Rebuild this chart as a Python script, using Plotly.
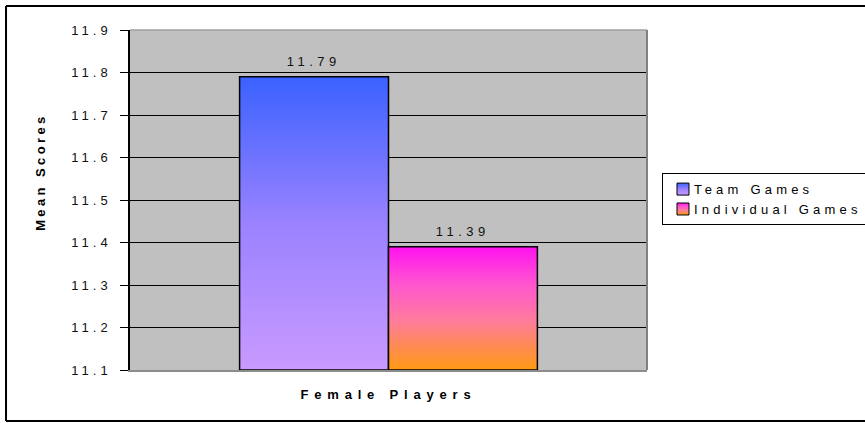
import json
import plotly.graph_objects as go

# Data
category = "Female Players"
series_names = ["Team Games", "Individual Games"]
mean_scores = [11.79, 11.39]
y_ticks = [11.1, 11.2, 11.3, 11.4, 11.5, 11.6, 11.7, 11.8, 11.9]
y_title = "Mean Scores"

# Vertical gradients, bottom (0) to top (1)
gradients = [
    [[0.0, "#C99AFF"], [0.5, "#9A82FF"], [1.0, "#3A62FF"]],
    [[0.0, "#FF9A12"], [0.4, "#FF7C9C"], [0.7, "#FF55D0"], [1.0, "#FF12F0"]],
]
legend_fallback = ["#7F78FF", "#FF50D8"]

Y_MIN, Y_MAX = y_ticks[0], y_ticks[-1]
BAR_W = 0.288          # width of each bar in axis units
GROUP_W = BAR_W * len(mean_scores)

FONT = "Liberation Sans, Arial, sans-serif"

fig = go.Figure()

for i, (name, val) in enumerate(zip(series_names, mean_scores)):
    x0 = -GROUP_W / 2 + i * BAR_W
    x1 = x0 + BAR_W
    # legend entry / base bar
    fig.add_trace(go.Bar(
        x=[x0 + BAR_W / 2], y=[val], width=[BAR_W],
        name=name, marker=dict(color=legend_fallback[i],
                               line=dict(color="black", width=1)),
        hoverinfo="skip",
    ))
    # gradient-filled body drawn over the bar
    fig.add_trace(go.Scatter(
        x=[x0, x0, x1, x1, x0], y=[Y_MIN, val, val, Y_MIN, Y_MIN],
        mode="lines", fill="toself",
        fillgradient=dict(type="vertical", colorscale=gradients[i],
                          start=Y_MIN, stop=val),
        line=dict(color="black", width=1.5),
        showlegend=False, hoverinfo="skip",
    ))
    fig.add_annotation(
        x=x0 + BAR_W / 2, y=val, text=f"{val:.2f}", showarrow=False,
        yanchor="bottom", yshift=6, font=dict(family=FONT, size=13, color="#111"),
    )

# y-axis title
fig.add_annotation(
    xref="paper", yref="paper", x=-0.174, y=0.582, text=f"<b>{y_title}</b>",
    textangle=-90, showarrow=False, xanchor="center", yanchor="middle",
    font=dict(family=FONT, size=13, color="black"), name="ytitle",
)

# plot-area frame: top and right edges
fig.add_shape(type="line", xref="paper", yref="paper", x0=0, x1=1, y0=1, y1=1,
              line=dict(color="#A0A0A0", width=1.5))
fig.add_shape(type="line", xref="paper", yref="paper", x0=1, x1=1, y0=0, y1=1,
              line=dict(color="#808080", width=2))
# outer chart border (left, top, bottom; the right side runs past the page)
for sx0, sy0, sx1, sy1 in [(-0.2398, -0.150, -0.2398, 1.0706),
                           (-0.2398, 1.0706, 1.8, 1.0706),
                           (-0.2398, -0.150, 1.8, -0.150)]:
    fig.add_shape(type="line", xref="paper", yref="paper",
                  x0=sx0, y0=sy0, x1=sx1, y1=sy1,
                  line=dict(color="black", width=2))

fig.update_layout(
    width=865, height=423,
    margin=dict(l=130, r=218, t=30, b=53, autoexpand=False),
    paper_bgcolor="white", plot_bgcolor="#C0C0C0",
    barmode="overlay", showlegend=True,
    font=dict(family=FONT, size=13, color="black"),
    legend=dict(
        x=1.029, y=0.579, xanchor="left", yanchor="top",
        bgcolor="white", bordercolor="black", borderwidth=1,
        font=dict(family=FONT, size=13, color="black"),
        tracegroupgap=0, itemwidth=30,
    ),
    xaxis=dict(
        range=[-0.5, 0.5], showticklabels=False, ticks="", showgrid=False,
        zeroline=False, showline=True, mirror=False, linecolor="#8C8C8C",
        linewidth=1.5, layer="below traces", fixedrange=True,
        title=dict(text=f"<b>{category}</b>", standoff=19,
                   font=dict(family=FONT, size=13, color="black")),
    ),
    yaxis=dict(
        range=[Y_MIN, Y_MAX], tickvals=y_ticks,
        ticktext=[f"{t:.1f}" for t in y_ticks],
        ticks="outside", ticklen=8, tickcolor="black", tickwidth=1,
        ticklabelstandoff=6,
        showgrid=True, gridcolor="black", gridwidth=1, zeroline=False,
        showline=True, linecolor="black", linewidth=1.5, fixedrange=True,
        tickfont=dict(family=FONT, size=13, color="#111"),
    ),
)

post_script = """
var gd = document.getElementById('{plot_id}');
var YTITLE = YTITLE_TEXT;
var spacing = [
  ['.ytick text', '4px'], ['.legendtext', '4.2px'], ['.xtitle', '5.8px']
];
spacing.forEach(function (p) {
  gd.querySelectorAll(p[0]).forEach(function (t) { t.style.letterSpacing = p[1]; });
});
gd.querySelectorAll('.annotation-text').forEach(function (t) {
  t.style.letterSpacing = (t.textContent === YTITLE) ? '3.4px' : '4.5px';
});
// pull legend labels closer to their swatches
gd.querySelectorAll('.legendtext').forEach(function (t) { t.setAttribute('x', 31); });
// widen the legend box so the spaced-out entries fit; it runs past the right edge
gd.querySelectorAll('.legend .scrollbox').forEach(function (s) { s.removeAttribute('clip-path'); });
gd.querySelectorAll('.legend rect.bg').forEach(function (r) { r.setAttribute('width', 260); });
var ns = 'http://www.w3.org/2000/svg';
var svg = gd.querySelector('.main-svg');
var defs = svg.querySelector('defs') || svg.insertBefore(document.createElementNS(ns, 'defs'), svg.firstChild);
var scales = GRADIENTS;
gd.querySelectorAll('.legend .traces').forEach(function (tr, i) {
  if (!scales[i]) return;
  var g = document.createElementNS(ns, 'linearGradient');
  g.setAttribute('id', 'legend-grad-' + i);
  g.setAttribute('x1', '0'); g.setAttribute('y1', '1');
  g.setAttribute('x2', '0'); g.setAttribute('y2', '0');
  scales[i].forEach(function (s) {
    var st = document.createElementNS(ns, 'stop');
    st.setAttribute('offset', s[0]); st.setAttribute('stop-color', s[1]);
    g.appendChild(st);
  });
  defs.appendChild(g);
  tr.querySelectorAll('.legendpoints path').forEach(function (p) {
    p.style.fill = 'url(#legend-grad-' + i + ')';
  });
});
""".replace("GRADIENTS", json.dumps(gradients)).replace("YTITLE_TEXT", json.dumps(y_title))

fig.write_html("out.html", post_script=post_script, config={"displayModeBar": False})
